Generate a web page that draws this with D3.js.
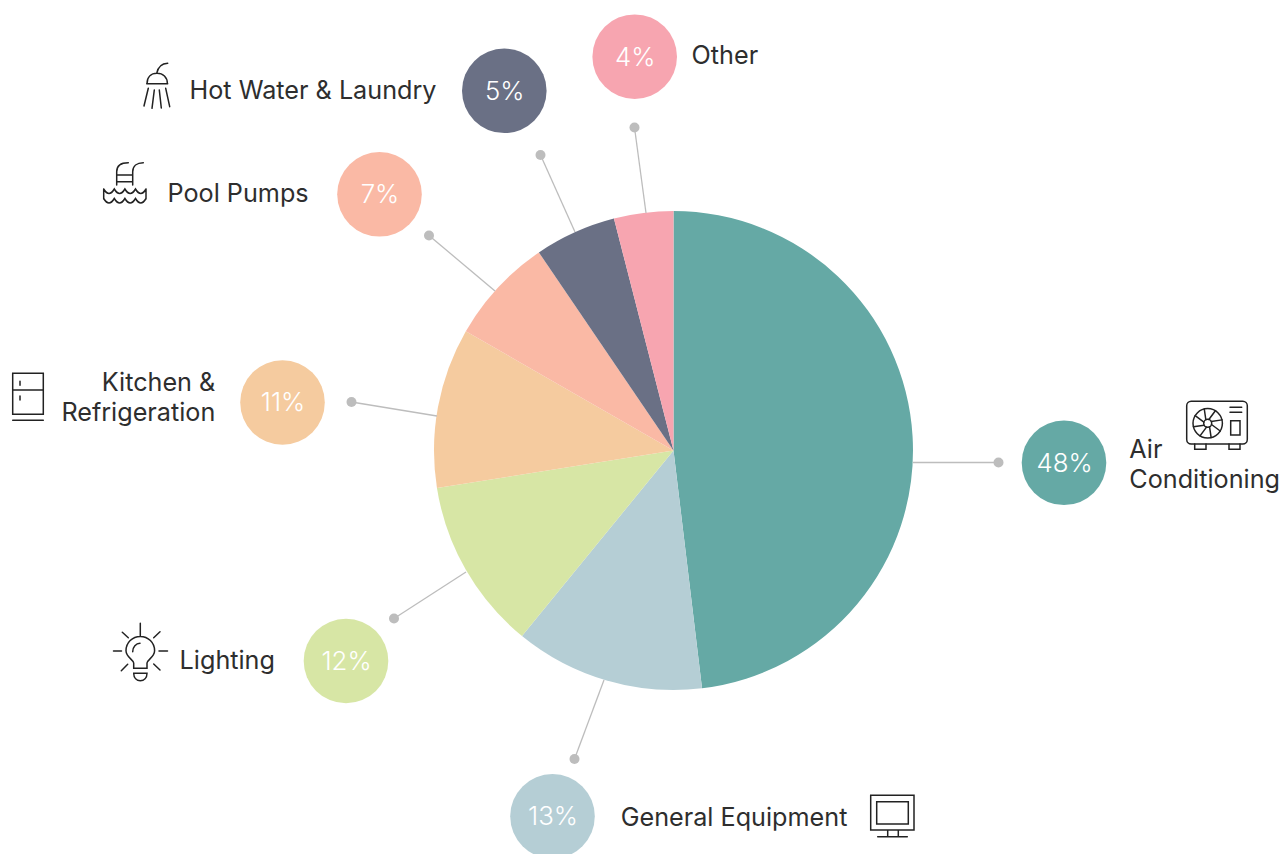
<!DOCTYPE html>
<html>
<head>
<meta charset="utf-8">
<title>Energy use by category</title>
<script src="https://cdn.jsdelivr.net/npm/d3@7"></script>
<style>
html, body { margin: 0; padding: 0; background: #fff; }
svg { display: block; }
text { font-family: "Inter", "Liberation Sans", sans-serif; }
.name { font-size: 25.2px; fill: #2e2e2e; }
.pct { font-size: 25.8px; font-weight: 300; fill: #fff; text-anchor: middle; }
.icon { fill: none; stroke: #222; stroke-width: 1.5; stroke-linecap: round; }
.lead { stroke: #bdbdbd; stroke-width: 1.3; }
</style>
</head>
<body>
<div id="chart"></div>
<script>
var categories = ["Air Conditioning", "General Equipment", "Lighting", "Kitchen & Refrigeration", "Pool Pumps", "Hot Water & Laundry", "Other"];
// printed percentages
var percentLabels = [48, 13, 12, 11, 7, 5, 4];
// slice sizes, they differ a bit from the printed numbers
var sliceShares = [48.1, 12.8, 11.6, 10.8, 7.2, 5.5, 4];
var sliceColors = ["#65a9a5", "#b5ced5", "#d7e6a5", "#f5cb9f", "#fab9a5", "#6a7085", "#f7a5b0"];

// callout placement, same order as categories
var bubbleSpots = [[1064, 462.8], [552.5, 816.3], [346, 661], [282.5, 402.5], [379.5, 194.3], [504.3, 90.8], [634.7, 56.7]];
var dotSpots = [[998.5, 462.5], [574.5, 759], [394, 618.5], [351.5, 402], [429, 235.5], [540.5, 155], [634.5, 127.5]];
var lineEnds = [[913, 462.5], [604, 680], [466, 572], [437, 416], [495, 291], [575, 232], [646, 213]];
var nameLines = [["Air", "Conditioning"], ["General Equipment"], ["Lighting"], ["Kitchen &", "Refrigeration"], ["Pool Pumps"], ["Hot Water & Laundry"], ["Other"]];
var nameSpots = [[1129.3, 458, "start"], [620.7, 826, "start"], [179.6, 669, "start"], [215.3, 391, "end"], [167.5, 202, "start"], [189.5, 99, "start"], [691.6, 64, "start"]];

var width = 1282;
var height = 854;
var cx = 673.5;
var cy = 450.5;
var radius = 239.5;
var bubbleR = 42.3;

var svg = d3.select("#chart")
    .append("svg")
    .attr("width", width)
    .attr("height", height);

// pie
var pie = d3.pie().sort(null).value(function(d) { return d; });
var arc = d3.arc().innerRadius(0).outerRadius(radius);

svg.append("g")
    .attr("transform", "translate(" + cx + "," + cy + ")")
    .selectAll("path")
    .data(pie(sliceShares))
    .enter()
    .append("path")
    .attr("fill", function(d, i) { return sliceColors[i]; })
    .attr("d", arc);

// leader lines + dots
svg.append("g").selectAll("line")
    .data(categories)
    .enter()
    .append("line")
    .attr("class", "lead")
    .attr("x1", function(d, i) { return lineEnds[i][0]; })
    .attr("y1", function(d, i) { return lineEnds[i][1]; })
    .attr("x2", function(d, i) { return dotSpots[i][0]; })
    .attr("y2", function(d, i) { return dotSpots[i][1]; });

svg.append("g").selectAll("circle")
    .data(categories)
    .enter()
    .append("circle")
    .attr("r", 5)
    .attr("fill", "#bdbdbd")
    .attr("cx", function(d, i) { return dotSpots[i][0]; })
    .attr("cy", function(d, i) { return dotSpots[i][1]; });

// bubbles
svg.append("g").selectAll("circle")
    .data(categories)
    .enter()
    .append("circle")
    .attr("r", bubbleR)
    .attr("fill", function(d, i) { return sliceColors[i]; })
    .attr("cx", function(d, i) { return bubbleSpots[i][0]; })
    .attr("cy", function(d, i) { return bubbleSpots[i][1]; });

svg.append("g").selectAll("text")
    .data(percentLabels)
    .enter()
    .append("text")
    .attr("class", "pct")
    .attr("x", function(d, i) { return bubbleSpots[i][0] + 0.5; })
    .attr("y", function(d, i) { return bubbleSpots[i][1] + 8.8; })
    .text(function(d) { return d + "%"; });

// category names
categories.forEach(function(c, i) {
    nameLines[i].forEach(function(line, j) {
        svg.append("text")
            .attr("class", "name")
            .attr("x", nameSpots[i][0])
            .attr("y", nameSpots[i][1] + j * 30)
            .attr("text-anchor", nameSpots[i][2])
            .text(line);
    });
});

// icons
var icons = svg.append("g").attr("class", "icon");

// shower
icons.append("path").attr("d", "M146.7 83.7H167.7M147 83.7C147 77 151 73.3 157 73.3C163 73.3 167.4 77 167.4 83.7M156.7 73.3C158 67 162 63.6 167.7 63.3"
    + "M148.3 88.3L144 106M154.3 90L152 108.3M159.3 90L161.3 108M165.7 88.3L169.7 106.7");

// pool
icons.append("path").attr("d", "M116.7 185V171.7C116.7 166 121 162.7 128.3 162.7M132.7 185V171.7C132.7 166 137 162.7 143.3 162.7M116.7 175H132.7M116.7 181.7H132.7"
    + "M103.7 189V199M146 189V199"
    + "M103.7 189q5.3 9 10.6 0q5.3 9 10.6 0q5.3 9 10.6 0q5.3 9 10.5 0"
    + "M103.7 198.5q5.3 9 10.6 0q5.3 9 10.6 0q5.3 9 10.6 0q5.3 9 10.5 0");

// fridge
icons.append("path").attr("d", "M12.7 373.3H43.3V414.3H12.7ZM12.7 390H43.3M20 381.3V385.3M20 396V400M12.7 420.3H43.3");

// bulb
icons.append("path").attr("d", "M140.3 623.3V636M113.5 651H121.5M159 651H167.5M122.3 632.3L128.3 637.7M160 631.7L153.7 637.7M121.3 670.7L127.7 664.3M160 670L153.7 664"
    + "M133.7 668.3V663C133.7 660 126 657 126 650.7A14.3 14.3 0 0 1 154.6 650.7C154.6 657 147 660 147 663V668.3Z"
    + "M132.7 651.7C132.7 647 136 643.3 140 643.3"
    + "M133.7 673.3H147C147 678 144 680.7 140.3 680.7C136.7 680.7 133.7 678 133.7 673.3Z");

// air conditioner
icons.append("rect").attr("x", 1186.7).attr("y", 401.3).attr("width", 60.6).attr("height", 42.7).attr("rx", 4.5);
icons.append("circle").attr("cx", 1207.7).attr("cy", 423.3).attr("r", 14.7);
icons.append("circle").attr("cx", 1207.7).attr("cy", 423.3).attr("r", 4);
d3.range(8).forEach(function(k) {
    var a = k * Math.PI / 4 + 0.3;
    icons.append("line")
        .attr("x1", 1207.7 + 4 * Math.cos(a))
        .attr("y1", 423.3 + 4 * Math.sin(a))
        .attr("x2", 1207.7 + 14.7 * Math.cos(a + 0.25))
        .attr("y2", 423.3 + 14.7 * Math.sin(a + 0.25));
});
icons.append("path").attr("d", "M1230 407.3H1241.7M1230 412.3H1241.7M1230.7 420.7H1240V435H1230.7ZM1194.7 444V449.3H1206V444M1229 444V449.3H1240V444");

// monitor
icons.append("path").attr("d", "M870.7 795.3H914V830H870.7ZM876.7 801.7H908.3V824H876.7ZM887.7 830V836.7M898.3 830V836.7M877.7 836.7H907.3");
</script>
</body>
</html>
